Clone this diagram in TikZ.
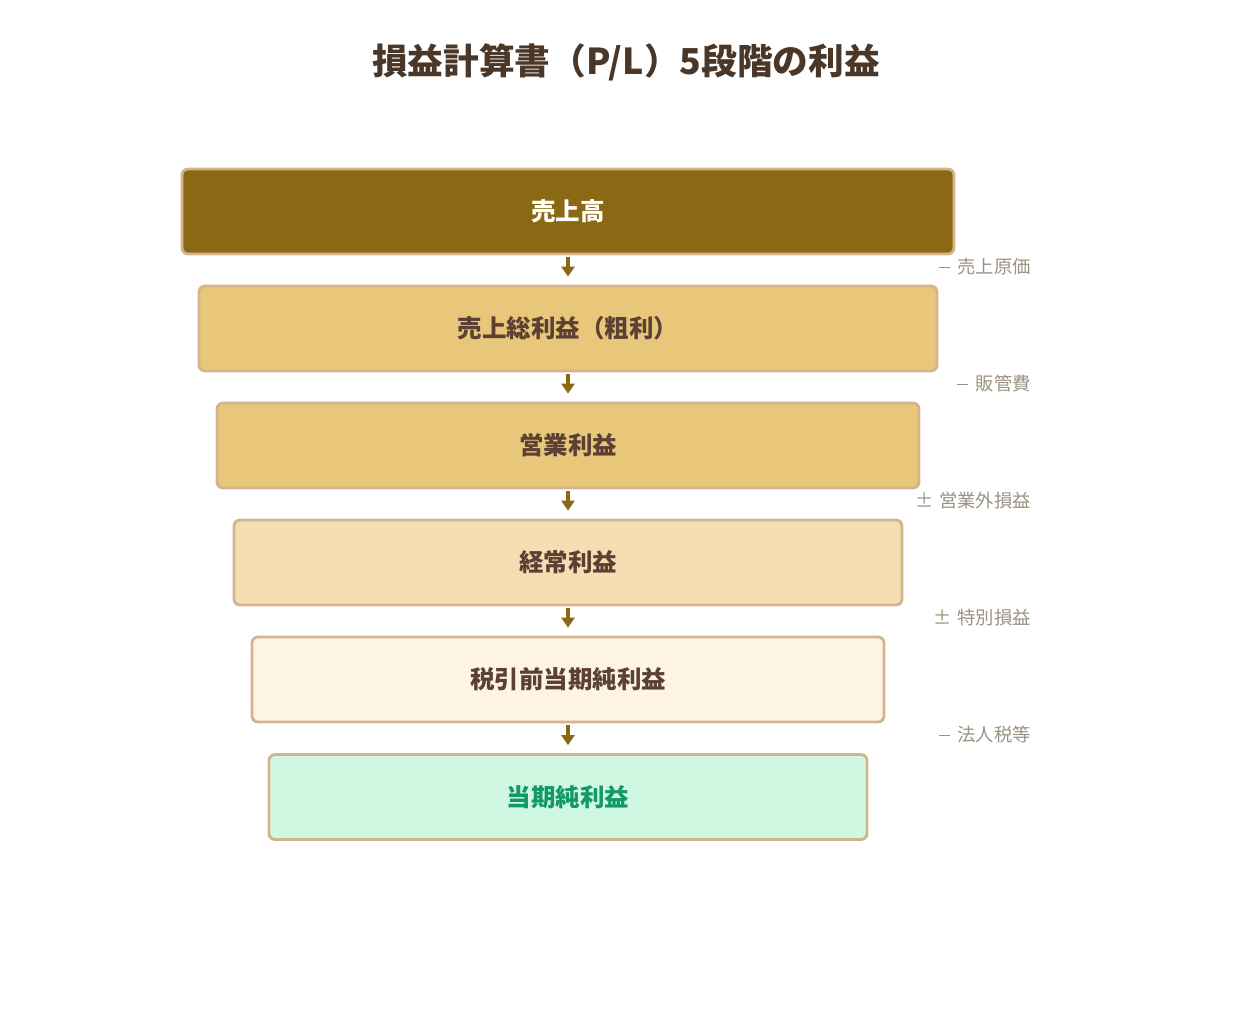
\documentclass[tikz,border=0pt]{standalone}
\usepackage{fontspec}
\setmainfont{Noto Sans CJK JP}
\usetikzlibrary{arrows.meta}
\definecolor{ctitle}{HTML}{4A3728}
\definecolor{cdark}{HTML}{5C4033}
\definecolor{cborder}{HTML}{D4B48C}
\definecolor{cf1}{HTML}{8B6914}
\definecolor{cf2}{HTML}{E8C77A}
\definecolor{cf4}{HTML}{F5DEB3}
\definecolor{cf5}{HTML}{FDF5E2}
\definecolor{cf6}{HTML}{D0F7E2}
\definecolor{cgreen}{HTML}{13986A}
\definecolor{cside}{HTML}{9A9282}
\newcommand{\mminus}{\raisebox{6pt}{\rule{11pt}{1.1pt}}}
\begin{document}
\begin{tikzpicture}[x=1pt,y=-1pt,
  stage/.style={draw=cborder,line width=2.8pt,rounded corners=6pt,minimum height=85pt,inner sep=0pt,font=\fontsize{24.5}{28}\selectfont\bfseries,text=cdark},
  flow/.style={draw=cf1,line width=3.5pt,-{Triangle[length=10pt,width=13pt]}},
  side/.style={anchor=east,text=cside,font=\fontsize{18.3}{21}\selectfont,inner sep=0pt}]
\useasboundingbox (0,0) rectangle (1252,1021);
\node[font=\fontsize{35.7}{42}\selectfont\bfseries,text=ctitle] (title) at (626,62) {損益計算書（P/L）5段階の利益};
\node[stage,fill=cf1,text=white,minimum width=772pt] (s1) at (568,211.5) {売上高};
\node[stage,fill=cf2,minimum width=738pt] (s2) at (568,328.5) {売上総利益（粗利）};
\node[stage,fill=cf2,minimum width=702pt] (s3) at (568,445.5) {営業利益};
\node[stage,fill=cf4,minimum width=668pt] (s4) at (568,562.5) {経常利益};
\node[stage,fill=cf5,minimum width=632pt] (s5) at (568,679.5) {税引前当期純利益};
\node[stage,fill=cf6,text=cgreen,minimum width=598pt] (s6) at (568,797) {当期純利益};
\foreach \a/\b in {s1/s2,s2/s3,s3/s4,s4/s5,s5/s6}{
  \draw[flow] ([yshift=-1.5pt]\a.south) -- ([yshift=8pt]\b.north);
}
\node[side] (l1) at (1031,267) {\mminus\hspace{8pt}売上原価};
\node[side] (l2) at (1031,384) {\mminus\hspace{8pt}販管費};
\node[side] (l3) at (1031,501) {±\hspace{6pt}営業外損益};
\node[side] (l4) at (1031,618) {±\hspace{6pt}特別損益};
\node[side] (l5) at (1031,735) {\mminus\hspace{8pt}法人税等};
\end{tikzpicture}
\end{document}
